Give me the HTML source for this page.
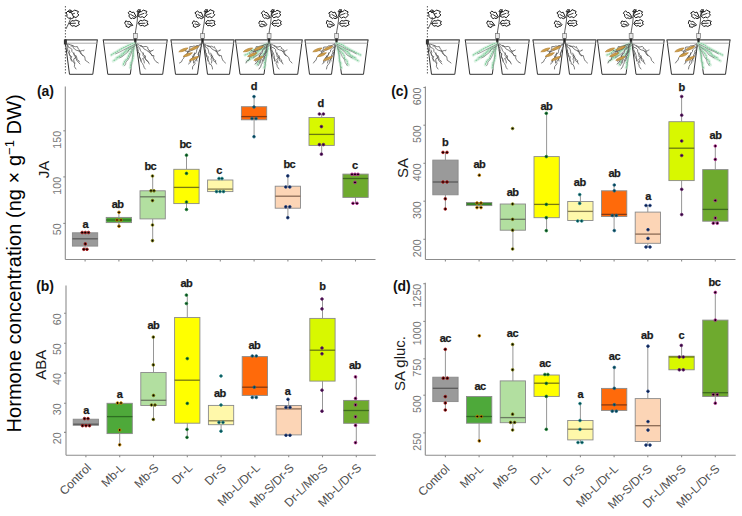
<!DOCTYPE html>
<html><head><meta charset="utf-8"><style>
html,body{margin:0;padding:0;background:#fff;}
svg{display:block;}
text{font-family:"Liberation Sans",sans-serif;}
.ax{stroke:#8c8c8c;stroke-width:1.1;fill:none;}
.wh{stroke:#8a8a8a;stroke-width:0.9;}
.bx{stroke:#8a8a8a;stroke-width:0.9;}
.md{stroke-width:1.3;}
.pt{stroke-width:0.8;}
.lt{font-weight:bold;font-size:11px;text-anchor:middle;fill:#1a1a1a;letter-spacing:-0.5px;stroke:#1a1a1a;stroke-width:0.25px;}
.tk{font-size:10.7px;fill:#747474;text-anchor:end;}
.tt{font-size:15px;fill:#1a1a1a;text-anchor:middle;}
.pl{font-weight:bold;font-size:14px;fill:#111;letter-spacing:-0.1px;}
.xl{font-size:12px;fill:#4d4d4d;text-anchor:end;}
.big{font-size:20.1px;fill:#000;text-anchor:start;}
.pot{stroke:#333;stroke-width:1;fill:none;}
.rim{stroke:#444;stroke-width:1.3;}
.rim2{stroke:#aaa;stroke-width:1;}
.root2{stroke:#666;stroke-width:0.6;fill:none;}
.col{stroke:#777;stroke-width:0.7;fill:#e8e8e8;}
.stem{stroke:#333;stroke-width:0.8;fill:none;}
.leaf{stroke:#1a1a1a;stroke-width:1;fill:#fff;stroke-linejoin:round;}
.vein{stroke:#222;stroke-width:0.9;}
.root{stroke:#505050;stroke-width:0.75;fill:none;stroke-linejoin:round;stroke-linecap:round;}
.rootin{stroke:#fff;stroke-width:0.5;fill:none;stroke-linejoin:round;}
.groot{stroke:#c6e9d2;stroke-width:3.2;fill:none;stroke-linecap:round;opacity:0.6;}
.groot2{stroke:#80cc9c;stroke-width:1.1;fill:none;stroke-linecap:round;stroke-dasharray:1 1.4;}
.blob{fill:#cf9f48;stroke:#b08035;stroke-width:0.6;}
.dash{stroke:#333;stroke-width:0.8;stroke-dasharray:1.5 1.5;}
</style></head><body>
<svg width="742" height="516" viewBox="0 0 742 516">
<defs><g id="plants">
<path d="M65.0,40 L69.5,74.3 L92.8,74.3 L97.3,40" class="pot"/>
<line x1="64.5" y1="39.8" x2="97.8" y2="39.8" class="rim"/>
<line x1="65.5" y1="43.2" x2="96.8" y2="43.2" class="rim2"/>
<line x1="65.4" y1="6" x2="65.4" y2="74.5" class="dash"/>
<path d="M65.9,29 L68.4,24 L70.9,18 L72.4,12" class="stem"/>
<path d="M69.4,23.5 L71.9,20.6 L74.1,21.0 L75.9,20.0 L79.4,21.5 L78.3,23.1 L79.5,24.5 L75.9,26.6 L74.1,25.6 L71.9,26.2Z" class="leaf"/>
<path d="M69.4,23.5 L75.9,23.2" class="vein"/>
<path d="M68.9,15.5 L70.9,11.2 L73.0,11.5 L74.4,10.0 L78.4,11.5 L77.5,13.5 L78.9,15.0 L75.9,17.6 L74.0,16.7 L71.9,17.6Z" class="leaf"/>
<path d="M68.9,15.5 L74.9,13.2" class="vein"/>
<path d="M73.9,17.5 L71.2,12.2 L69.5,12.5 L68.0,11.0 L66.0,13.0 L67.1,14.8 L66.7,16.2 L68.9,18.6 L70.1,17.8 L71.6,18.6Z" class="leaf"/>
<path d="M67.4,12 L69.4,9.8 L71.4,10.5 L68.4,11.5 L70.4,12.5" fill="none" stroke="#222" stroke-width="0.9"/>
<rect x="63.900000000000006" y="39.5" width="3" height="5" fill="#333"/>
<path d="M66.0,42.0 L66.4,43.6 L67.8,45.5 L67.8,47.9 L67.2,50.0 L68.2,51.9 L69.2,53.6 L70.4,56.4 L70.3,57.7 L72.2,60.5 L73.1,61.9 L74.4,63.0 L74.6,64.8 L74.4,66.6 L76.0,69.0" class="root"/>
<path d="M67.0,44.0 L67.7,45.8 L68.4,47.1 L70.8,48.4 L72.1,49.5 L71.7,51.2 L73.3,52.9 L74.2,54.6 L75.9,55.8 L77.0,58.2 L76.5,60.1 L78.5,62.4 L80.0,64.0" class="root"/>
<path d="M68.0,44.0 L70.4,44.8 L72.9,45.6 L73.4,47.8 L74.4,49.0 L76.2,50.2 L79.5,51.1 L80.7,52.3 L81.4,54.1 L82.6,55.0 L84.6,56.5 L85.0,58.2 L85.2,60.2 L87.8,62.0 L89.0,63.0" class="root"/>
<path d="M71.0,46.0 L73.6,46.0 L74.8,46.7 L75.6,46.7 L77.4,46.6 L78.2,48.8 L79.3,49.7 L80.3,51.9 L80.2,52.9 L82.1,54.9 L83.0,56.0" class="root"/>
<path d="M69.0,50.0 L69.8,52.4 L69.1,53.9 L70.0,55.9 L71.8,56.6 L70.7,58.7 L71.5,61.0" class="root"/>
<path d="M74.0,53.0 L74.0,55.0 L75.2,56.7 L75.6,58.4 L77.8,60.1 L79.3,61.2 L79.0,62.0" class="root"/>
<path d="M79.0,51.0 L80.5,51.1 L82.3,50.5 L83.7,50.8 L84.0,50.0" class="root"/>
<path d="M76.0,56.0 L75.7,57.8 L73.8,58.9 L73.8,61.1 L75.0,63.0" class="root"/>
<path d="M103.3,40 L107.8,74.3 L130.3,74.3 L134.8,40" class="pot"/>
<line x1="102.8" y1="39.8" x2="135.3" y2="39.8" class="rim"/>
<line x1="103.8" y1="43.2" x2="134.3" y2="43.2" class="rim2"/>
<path d="M135.8,40 L140.3,74.3 L162.7,74.3 L167.2,40" class="pot"/>
<line x1="135.3" y1="39.8" x2="167.7" y2="39.8" class="rim"/>
<line x1="136.3" y1="43.2" x2="166.7" y2="43.2" class="rim2"/>
<path d="M135.3,43.0 L131.6,43.8 L128.8,45.2 L126.0,46.6 L122.5,48.2 L119.7,49.9 L116.5,51.9 L114.5,52.9 L111.3,55.0" class="groot"/>
<path d="M135.3,43.0 L131.6,43.8 L128.8,45.2 L126.0,46.6 L122.5,48.2 L119.7,49.9 L116.5,51.9 L114.5,52.9 L111.3,55.0" class="groot2"/>
<path d="M135.3,44.0 L132.4,45.9 L130.1,47.6 L128.4,50.5 L125.2,52.0 L121.6,54.1 L119.0,56.8 L116.8,58.7 L113.3,61.0" class="groot"/>
<path d="M135.3,44.0 L132.4,45.9 L130.1,47.6 L128.4,50.5 L125.2,52.0 L121.6,54.1 L119.0,56.8 L116.8,58.7 L113.3,61.0" class="groot2"/>
<path d="M134.3,45.0 L132.0,48.4 L131.3,50.7 L129.9,53.0 L128.3,56.5 L127.4,58.7 L124.9,60.9 L123.8,63.3 L123.3,65.0" class="groot"/>
<path d="M134.3,45.0 L132.0,48.4 L131.3,50.7 L129.9,53.0 L128.3,56.5 L127.4,58.7 L124.9,60.9 L123.8,63.3 L123.3,65.0" class="groot2"/>
<path d="M134.3,46.0 L133.9,49.3 L133.0,51.7 L133.3,55.5 L132.9,58.3 L132.3,60.7 L130.9,63.0 L130.6,65.0 L130.3,68.0" class="groot"/>
<path d="M134.3,46.0 L133.9,49.3 L133.0,51.7 L133.3,55.5 L132.9,58.3 L132.3,60.7 L130.9,63.0 L130.6,65.0 L130.3,68.0" class="groot2"/>
<path d="M133.3,47.0 L129.0,48.3 L125.9,50.2 L124.5,52.4 L122.0,55.5 L119.5,56.4 L116.3,58.0" class="groot"/>
<path d="M133.3,47.0 L129.0,48.3 L125.9,50.2 L124.5,52.4 L122.0,55.5 L119.5,56.4 L116.3,58.0" class="groot2"/>
<path d="M135.3,45.0 L133.5,47.8 L132.0,50.8 L130.9,54.2 L129.6,57.0 L128.0,59.7 L125.9,62.1 L125.7,64.2 L124.3,66.0" class="root2"/>
<path d="M135.3,44.0 L132.6,45.5 L129.0,47.2 L126.1,48.7 L123.8,49.9 L119.2,52.3 L115.3,54.0" class="root2"/>
<path d="M134.3,46.0 L132.0,47.8 L128.9,49.8 L127.2,52.7 L123.9,55.2 L122.3,56.6 L119.3,58.0" class="root2"/>
<path d="M135.3,42.0 L135.8,44.1 L136.1,45.5 L137.9,48.2 L137.3,50.5 L138.2,52.4 L139.9,53.7 L139.4,55.8 L139.8,58.1 L140.9,59.9 L141.6,62.4 L142.5,63.5 L143.5,65.4 L144.2,67.5 L145.3,69.0" class="root"/>
<path d="M136.3,44.0 L137.3,45.5 L138.3,46.5 L139.7,48.2 L140.4,50.3 L141.2,51.5 L142.7,53.1 L143.5,54.5 L145.4,56.3 L145.1,58.1 L145.8,59.8 L148.3,62.0 L149.3,64.0" class="root"/>
<path d="M137.3,44.0 L139.4,45.3 L142.0,45.9 L143.0,47.5 L144.3,49.2 L146.2,50.0 L148.3,51.5 L149.7,52.9 L151.1,53.7 L151.9,55.5 L153.9,55.6 L153.6,57.9 L154.5,59.7 L156.0,61.7 L158.3,63.0" class="root"/>
<path d="M140.3,46.0 L142.8,46.7 L143.7,46.7 L146.1,46.4 L148.0,47.5 L147.8,49.0 L149.1,50.0 L150.7,51.9 L149.7,52.9 L151.3,54.3 L152.3,56.0" class="root"/>
<path d="M138.3,50.0 L138.0,51.8 L139.2,53.5 L139.6,55.4 L139.4,56.8 L140.8,59.0 L140.8,61.0" class="root"/>
<path d="M143.3,53.0 L143.0,55.5 L144.8,57.5 L145.1,58.2 L146.5,60.3 L147.4,60.6 L148.3,62.0" class="root"/>
<path d="M148.3,51.0 L149.7,51.4 L151.9,50.7 L151.7,51.0 L153.3,50.0" class="root"/>
<path d="M145.3,56.0 L144.4,57.7 L142.6,58.5 L144.1,60.9 L144.3,63.0" class="root"/>
<rect x="133.5" y="33.5" width="3.8" height="5" class="col"/>
<path d="M135.3,33.5 C135.8,29 136.8,25 137.3,20 L137.8,11" class="stem"/>
<path d="M132.8,25.4 L129.7,21.4 L127.9,21.9 L125.8,20.8 L124.6,23.3 L126.1,24.7 L126.1,26.4 L129.1,27.6 L129.8,26.1 L131.4,25.7Z" class="leaf"/>
<path d="M131.8,25 L127.30000000000001,23.8" class="vein"/>
<path d="M138.0,23.3 L140.2,20.3 L142.5,20.8 L144.1,19.8 L147.8,21.3 L146.9,22.9 L148.3,24.3 L144.5,26.3 L142.7,25.3 L140.4,25.8Z" class="leaf"/>
<path d="M138.8,23.5 L145.3,23.2" class="vein"/>
<path d="M136.4,17.1 L133.8,12.2 L131.8,12.5 L129.9,11.0 L128.2,12.7 L129.4,14.6 L128.9,16.1 L131.1,18.9 L132.4,17.9 L134.0,18.6Z" class="leaf"/>
<path d="M135.8,17.5 L130.3,14.2" class="vein"/>
<path d="M137.7,15.9 L139.4,11.5 L141.6,11.6 L143.2,10.1 L146.9,11.4 L145.9,13.3 L147.1,14.7 L144.2,17.8 L142.3,16.7 L140.3,17.3Z" class="leaf"/>
<path d="M138.3,15.5 L144.3,13.2" class="vein"/>
<path d="M136.8,12 L138.3,9.5 L140.8,10 L137.8,11.5 L140.3,12 L137.8,13" fill="none" stroke="#222" stroke-width="0.9"/>
<path d="M133.8,38.5 L136.8,38.5 L135.3,43 Z" fill="#222"/>
<path d="M171.0,40 L175.5,74.3 L197.5,74.3 L202.0,40" class="pot"/>
<line x1="170.5" y1="39.8" x2="202.5" y2="39.8" class="rim"/>
<line x1="171.5" y1="43.2" x2="201.5" y2="43.2" class="rim2"/>
<path d="M203.0,40 L207.5,74.3 L229.5,74.3 L234.0,40" class="pot"/>
<line x1="202.5" y1="39.8" x2="234.5" y2="39.8" class="rim"/>
<line x1="203.5" y1="43.2" x2="233.5" y2="43.2" class="rim2"/>
<path d="M202.5,42.0 L201.0,44.4 L201.7,46.2 L200.4,47.7 L200.1,50.0 L198.9,51.9 L198.1,54.5 L198.9,56.1 L197.0,58.5 L196.2,59.8 L194.6,61.9 L195.0,63.5 L194.0,65.0 L192.6,66.7 L192.5,69.0" class="root"/>
<path d="M201.5,44.0 L199.8,45.4 L198.7,46.5 L197.6,48.2 L196.7,50.0 L196.5,51.7 L195.9,53.4 L193.8,54.3 L193.4,55.6 L192.4,58.2 L190.7,60.4 L190.7,62.1 L188.5,64.0" class="root"/>
<path d="M200.5,44.0 L198.9,45.3 L195.9,46.0 L195.0,47.9 L194.0,49.4 L191.7,50.4 L189.8,51.2 L188.0,52.0 L186.8,53.8 L185.3,55.4 L184.6,56.1 L183.7,58.2 L182.5,59.5 L181.5,61.8 L179.5,63.0" class="root"/>
<path d="M197.5,46.0 L195.5,46.3 L193.8,46.0 L192.4,46.5 L189.7,46.7 L189.9,48.2 L188.9,50.5 L188.0,51.4 L187.5,53.2 L187.0,54.6 L185.5,56.0" class="root"/>
<path d="M199.5,50.0 L199.5,51.5 L198.4,53.7 L198.7,55.3 L197.6,56.5 L196.5,58.8 L197.0,61.0" class="root"/>
<path d="M194.5,53.0 L194.3,55.2 L193.8,56.8 L192.0,58.5 L190.4,59.6 L190.7,60.7 L189.5,62.0" class="root"/>
<path d="M189.5,51.0 L188.9,51.5 L185.6,51.0 L186.1,51.0 L184.5,50.0" class="root"/>
<path d="M192.5,56.0 L193.4,57.3 L194.0,59.5 L193.5,61.1 L193.5,63.0" class="root"/>
<path d="M178.5,50.6 C180.5,48.6 186.0,48.3 188.5,49.1 C186.5,51.3 181.5,51.7 178.5,50.6Z" transform="rotate(-14 183.5 50)" class="blob"/>
<path d="M189.2,48.9 C191.2,46.9 196.7,46.599999999999994 199.2,47.4 C197.2,49.599999999999994 192.2,50.0 189.2,48.9Z" transform="rotate(-14 194.2 48.3)" class="blob"/>
<path d="M182.8,55.4 C184.8,53.4 190.3,53.099999999999994 192.8,53.9 C190.8,56.099999999999994 185.8,56.5 182.8,55.4Z" transform="rotate(-14 187.8 54.8)" class="blob"/>
<path d="M189.0,59.2 C191.0,57.2 196.5,56.9 199.0,57.7 C197.0,59.9 192.0,60.300000000000004 189.0,59.2Z" transform="rotate(-14 194.0 58.6)" class="blob"/>
<path d="M202.5,42.0 L202.6,44.0 L204.8,45.6 L204.8,48.0 L205.2,50.2 L205.0,52.4 L206.5,53.5 L206.1,56.0 L207.4,57.8 L207.9,59.8 L209.2,62.4 L209.1,63.8 L211.1,64.6 L212.3,67.2 L212.5,69.0" class="root"/>
<path d="M203.5,44.0 L205.2,45.3 L205.3,46.9 L207.9,48.6 L208.2,49.9 L208.6,51.0 L208.8,53.4 L210.6,55.0 L212.0,55.7 L213.0,57.7 L213.3,60.5 L215.7,62.3 L216.5,64.0" class="root"/>
<path d="M204.5,44.0 L206.7,45.4 L209.3,46.1 L210.4,47.0 L211.9,48.9 L214.0,50.2 L215.1,50.5 L217.3,52.1 L217.4,53.8 L218.6,55.3 L221.4,55.7 L221.8,57.8 L222.6,59.9 L223.4,61.1 L225.5,63.0" class="root"/>
<path d="M207.5,46.0 L209.0,46.7 L211.5,46.2 L213.7,47.3 L214.4,46.6 L214.9,48.1 L216.2,49.6 L216.5,51.2 L217.6,53.4 L218.9,54.4 L219.5,56.0" class="root"/>
<path d="M205.5,50.0 L205.6,52.0 L205.8,53.8 L206.0,55.3 L208.3,56.6 L207.8,59.1 L208.0,61.0" class="root"/>
<path d="M210.5,53.0 L211.7,54.7 L211.1,56.7 L212.8,58.4 L215.3,60.4 L215.7,60.5 L215.5,62.0" class="root"/>
<path d="M215.5,51.0 L216.2,51.2 L219.2,51.0 L219.7,50.0 L220.5,50.0" class="root"/>
<path d="M212.5,56.0 L211.3,58.0 L211.1,59.4 L211.9,60.7 L211.5,63.0" class="root"/>
<rect x="200.7" y="33.5" width="3.8" height="5" class="col"/>
<path d="M202.5,33.5 C203.0,29 204.0,25 204.5,20 L205.0,11" class="stem"/>
<path d="M200.0,24.7 L196.8,21.3 L195.4,21.8 L193.7,20.7 L192.2,23.2 L193.5,24.7 L193.3,26.5 L195.9,27.5 L196.9,26.3 L198.6,26.3Z" class="leaf"/>
<path d="M199.0,25 L194.5,23.8" class="vein"/>
<path d="M205.3,23.3 L207.4,20.4 L209.9,21.0 L211.8,20.2 L214.9,21.2 L214.0,22.9 L215.3,24.6 L211.6,26.4 L209.9,25.3 L207.8,25.8Z" class="leaf"/>
<path d="M206.0,23.5 L212.5,23.2" class="vein"/>
<path d="M203.6,17.5 L201.2,12.3 L199.3,12.6 L197.6,11.0 L194.9,12.8 L196.4,14.8 L196.2,16.4 L198.1,18.2 L199.5,17.7 L201.3,18.7Z" class="leaf"/>
<path d="M203.0,17.5 L197.5,14.2" class="vein"/>
<path d="M204.6,15.3 L206.8,11.5 L208.8,11.4 L210.0,9.6 L214.1,11.4 L213.3,13.3 L214.8,14.8 L211.9,17.8 L209.9,16.7 L207.7,17.4Z" class="leaf"/>
<path d="M205.5,15.5 L211.5,13.2" class="vein"/>
<path d="M204.0,12 L205.5,9.5 L208.0,10 L205.0,11.5 L207.5,12 L205.0,13" fill="none" stroke="#222" stroke-width="0.9"/>
<path d="M201.0,38.5 L204.0,38.5 L202.5,43 Z" fill="#222"/>
<path d="M235.5,40 L240,74.3 L264,74.3 L268.5,40" class="pot"/>
<line x1="235" y1="39.8" x2="269" y2="39.8" class="rim"/>
<line x1="236" y1="43.2" x2="268" y2="43.2" class="rim2"/>
<path d="M269.5,40 L274,74.3 L297.7,74.3 L302.2,40" class="pot"/>
<line x1="269" y1="39.8" x2="302.7" y2="39.8" class="rim"/>
<line x1="270" y1="43.2" x2="301.7" y2="43.2" class="rim2"/>
<path d="M269.0,43.0 L266.8,44.1 L263.5,45.2 L259.6,47.3 L256.7,48.9 L254.0,49.7 L250.6,51.4 L248.3,53.7 L245.0,55.0" class="groot"/>
<path d="M269.0,43.0 L266.8,44.1 L263.5,45.2 L259.6,47.3 L256.7,48.9 L254.0,49.7 L250.6,51.4 L248.3,53.7 L245.0,55.0" class="groot2"/>
<path d="M269.0,44.0 L265.9,45.9 L263.5,48.5 L260.9,49.6 L258.3,51.9 L256.6,54.9 L253.4,57.5 L250.7,58.8 L247.0,61.0" class="groot"/>
<path d="M269.0,44.0 L265.9,45.9 L263.5,48.5 L260.9,49.6 L258.3,51.9 L256.6,54.9 L253.4,57.5 L250.7,58.8 L247.0,61.0" class="groot2"/>
<path d="M268.0,45.0 L266.0,48.4 L265.4,50.6 L263.8,53.4 L261.8,55.8 L260.0,58.0 L258.6,60.9 L258.7,62.6 L257.0,65.0" class="groot"/>
<path d="M268.0,45.0 L266.0,48.4 L265.4,50.6 L263.8,53.4 L261.8,55.8 L260.0,58.0 L258.6,60.9 L258.7,62.6 L257.0,65.0" class="groot2"/>
<path d="M268.0,46.0 L268.2,48.7 L266.8,52.3 L267.0,54.9 L265.3,58.0 L265.3,60.9 L264.5,62.9 L265.1,65.0 L264.0,68.0" class="groot"/>
<path d="M268.0,46.0 L268.2,48.7 L266.8,52.3 L267.0,54.9 L265.3,58.0 L265.3,60.9 L264.5,62.9 L265.1,65.0 L264.0,68.0" class="groot2"/>
<path d="M267.0,47.0 L263.4,48.8 L260.4,49.6 L256.8,52.1 L255.7,54.8 L252.9,56.9 L250.0,58.0" class="groot"/>
<path d="M267.0,47.0 L263.4,48.8 L260.4,49.6 L256.8,52.1 L255.7,54.8 L252.9,56.9 L250.0,58.0" class="groot2"/>
<path d="M269.0,45.0 L267.3,47.9 L266.5,51.1 L264.3,54.1 L262.8,56.9 L261.0,59.7 L260.4,62.1 L259.4,63.7 L258.0,66.0" class="root2"/>
<path d="M269.0,44.0 L265.7,45.5 L263.5,47.3 L259.9,48.4 L256.9,50.0 L253.4,51.8 L249.0,54.0" class="root2"/>
<path d="M268.0,46.0 L265.8,48.1 L263.3,50.2 L260.6,52.4 L257.8,54.9 L255.8,56.2 L253.0,58.0" class="root2"/>
<path d="M269.0,42.0 L267.7,44.3 L267.0,45.5 L266.4,48.1 L266.7,50.5 L266.7,52.5 L264.6,53.6 L263.8,56.0 L264.4,57.9 L262.5,59.9 L262.2,62.2 L261.9,63.9 L261.3,64.6 L260.6,66.8 L259.0,69.0" class="root"/>
<path d="M268.0,44.0 L267.1,45.4 L266.4,46.7 L264.0,48.2 L262.4,50.4 L262.6,51.3 L261.8,53.5 L260.5,54.2 L259.6,56.2 L259.4,57.6 L258.0,60.3 L257.1,62.4 L255.0,64.0" class="root"/>
<path d="M267.0,44.0 L264.2,44.8 L262.3,45.7 L262.4,47.6 L260.8,48.9 L258.7,49.9 L255.6,51.3 L255.8,52.1 L254.2,54.1 L252.0,54.9 L250.4,55.7 L249.6,58.1 L249.3,59.7 L246.6,61.3 L246.0,63.0" class="root"/>
<path d="M264.0,46.0 L262.3,45.9 L259.7,46.2 L259.0,46.8 L256.2,46.6 L255.8,48.6 L255.3,49.6 L253.9,51.7 L253.8,52.8 L252.7,55.0 L252.0,56.0" class="root"/>
<path d="M266.0,50.0 L265.4,52.1 L265.2,53.9 L265.4,56.0 L263.8,56.7 L264.2,58.7 L263.5,61.0" class="root"/>
<path d="M261.0,53.0 L259.6,55.4 L259.9,57.3 L258.3,58.9 L256.9,59.6 L255.6,61.1 L256.0,62.0" class="root"/>
<path d="M256.0,51.0 L254.8,51.4 L252.3,51.1 L251.8,50.5 L251.0,50.0" class="root"/>
<path d="M259.0,56.0 L259.4,57.3 L261.0,59.5 L259.8,61.0 L260.0,63.0" class="root"/>
<path d="M243,50.6 C245,48.6 250.5,48.3 253,49.1 C251,51.3 246,51.7 243,50.6Z" transform="rotate(-14 248 50)" class="blob"/>
<path d="M253.7,48.9 C255.7,46.9 261.2,46.599999999999994 263.7,47.4 C261.7,49.599999999999994 256.7,50.0 253.7,48.9Z" transform="rotate(-14 258.7 48.3)" class="blob"/>
<path d="M247.3,55.4 C249.3,53.4 254.8,53.099999999999994 257.3,53.9 C255.3,56.099999999999994 250.3,56.5 247.3,55.4Z" transform="rotate(-14 252.3 54.8)" class="blob"/>
<path d="M253.5,59.2 C255.5,57.2 261.0,56.9 263.5,57.7 C261.5,59.9 256.5,60.300000000000004 253.5,59.2Z" transform="rotate(-14 258.5 58.6)" class="blob"/>
<path d="M269.0,42.0 L270.3,44.5 L270.0,45.6 L271.5,48.5 L271.0,49.5 L272.8,51.9 L273.7,54.1 L274.1,55.6 L274.5,57.7 L274.8,60.4 L276.6,61.7 L276.0,63.4 L277.0,64.9 L277.3,66.7 L279.0,69.0" class="root"/>
<path d="M270.0,44.0 L271.4,45.9 L271.2,47.1 L274.0,48.0 L275.6,49.6 L275.7,51.6 L276.2,52.8 L277.4,54.6 L278.9,56.2 L279.4,57.9 L279.1,60.1 L281.5,61.7 L283.0,64.0" class="root"/>
<path d="M271.0,44.0 L273.5,45.3 L274.9,45.7 L276.5,47.1 L277.3,48.9 L279.3,49.9 L282.0,50.5 L283.2,52.0 L284.4,54.3 L285.5,54.5 L287.0,55.9 L288.8,57.6 L289.6,60.5 L290.9,61.8 L292.0,63.0" class="root"/>
<path d="M274.0,46.0 L275.4,46.8 L278.0,47.0 L280.2,46.4 L281.5,47.5 L281.2,48.3 L283.5,49.6 L284.2,51.3 L284.6,52.6 L285.0,55.0 L286.0,56.0" class="root"/>
<path d="M272.0,50.0 L271.7,51.7 L272.5,53.8 L272.4,55.2 L273.4,57.5 L274.6,59.4 L274.5,61.0" class="root"/>
<path d="M277.0,53.0 L276.9,55.3 L277.3,57.0 L279.7,58.3 L281.7,60.1 L281.6,61.4 L282.0,62.0" class="root"/>
<path d="M282.0,51.0 L282.8,51.5 L285.2,50.9 L286.5,50.2 L287.0,50.0" class="root"/>
<path d="M279.0,56.0 L278.9,57.6 L276.7,59.3 L277.4,60.7 L278.0,63.0" class="root"/>
<rect x="267.2" y="33.5" width="3.8" height="5" class="col"/>
<path d="M269,33.5 C269.5,29 270.5,25 271,20 L271.5,11" class="stem"/>
<path d="M267.0,24.6 L263.6,21.0 L261.9,21.7 L259.9,20.9 L258.7,23.1 L260.0,24.5 L259.7,26.1 L262.4,27.0 L263.5,25.9 L265.4,25.9Z" class="leaf"/>
<path d="M265.5,25 L261,23.8" class="vein"/>
<path d="M271.7,23.8 L273.9,20.4 L276.3,20.8 L278.3,19.6 L281.3,21.4 L280.3,23.0 L281.5,24.4 L278.0,26.7 L276.3,25.5 L274.3,26.0Z" class="leaf"/>
<path d="M272.5,23.5 L279,23.2" class="vein"/>
<path d="M270.4,17.5 L267.0,12.5 L265.3,12.6 L263.6,10.7 L261.3,13.1 L262.8,14.9 L262.6,16.4 L264.7,18.4 L265.9,17.8 L267.4,18.7Z" class="leaf"/>
<path d="M269.5,17.5 L264,14.2" class="vein"/>
<path d="M271.2,15.4 L273.3,11.2 L275.5,11.5 L277.0,10.2 L280.5,11.8 L279.6,13.6 L280.8,15.0 L278.1,17.4 L276.1,16.7 L273.8,17.8Z" class="leaf"/>
<path d="M272,15.5 L278,13.2" class="vein"/>
<path d="M270.5,12 L272,9.5 L274.5,10 L271.5,11.5 L274,12 L271.5,13" fill="none" stroke="#222" stroke-width="0.9"/>
<path d="M267.5,38.5 L270.5,38.5 L269,43 Z" fill="#222"/>
<path d="M305.0,40 L309.5,74.3 L331.5,74.3 L336.0,40" class="pot"/>
<line x1="304.5" y1="39.8" x2="336.5" y2="39.8" class="rim"/>
<line x1="305.5" y1="43.2" x2="335.5" y2="43.2" class="rim2"/>
<path d="M337.0,40 L341.5,74.3 L363.5,74.3 L368.0,40" class="pot"/>
<line x1="336.5" y1="39.8" x2="368.5" y2="39.8" class="rim"/>
<line x1="337.5" y1="43.2" x2="367.5" y2="43.2" class="rim2"/>
<path d="M336.5,42.0 L334.9,44.1 L335.8,45.6 L334.2,48.1 L334.5,50.2 L334.1,51.6 L332.2,53.8 L331.2,56.4 L332.0,58.2 L329.6,60.4 L329.9,62.0 L329.4,63.4 L328.0,64.6 L327.0,66.5 L326.5,69.0" class="root"/>
<path d="M335.5,44.0 L334.2,45.8 L333.9,47.4 L332.4,48.2 L330.6,49.9 L330.5,51.5 L329.1,53.2 L328.8,54.2 L327.2,55.5 L325.6,57.7 L325.9,60.5 L324.4,61.8 L322.5,64.0" class="root"/>
<path d="M334.5,44.0 L333.2,44.8 L330.0,46.4 L329.2,47.7 L327.8,49.5 L325.4,50.4 L323.9,51.4 L322.4,52.7 L321.6,53.8 L319.5,55.1 L317.7,56.4 L316.9,57.5 L315.8,60.5 L314.7,61.1 L313.5,63.0" class="root"/>
<path d="M331.5,46.0 L328.7,45.8 L327.8,46.6 L326.4,47.0 L323.7,47.1 L323.3,48.8 L323.1,50.4 L321.2,51.9 L322.2,53.5 L319.8,54.2 L319.5,56.0" class="root"/>
<path d="M333.5,50.0 L332.6,51.5 L333.6,54.3 L332.5,55.9 L331.7,56.8 L330.5,58.6 L331.0,61.0" class="root"/>
<path d="M328.5,53.0 L328.5,54.7 L327.2,56.9 L325.1,58.2 L324.1,60.2 L323.8,60.8 L323.5,62.0" class="root"/>
<path d="M323.5,51.0 L322.8,51.0 L321.1,51.1 L318.7,50.4 L318.5,50.0" class="root"/>
<path d="M326.5,56.0 L327.4,57.8 L328.2,59.2 L328.1,60.7 L327.5,63.0" class="root"/>
<path d="M312.5,50.6 C314.5,48.6 320.0,48.3 322.5,49.1 C320.5,51.3 315.5,51.7 312.5,50.6Z" transform="rotate(-14 317.5 50)" class="blob"/>
<path d="M323.2,48.9 C325.2,46.9 330.7,46.599999999999994 333.2,47.4 C331.2,49.599999999999994 326.2,50.0 323.2,48.9Z" transform="rotate(-14 328.2 48.3)" class="blob"/>
<path d="M316.8,55.4 C318.8,53.4 324.3,53.099999999999994 326.8,53.9 C324.8,56.099999999999994 319.8,56.5 316.8,55.4Z" transform="rotate(-14 321.8 54.8)" class="blob"/>
<path d="M323.0,59.2 C325.0,57.2 330.5,56.9 333.0,57.7 C331.0,59.9 326.0,60.300000000000004 323.0,59.2Z" transform="rotate(-14 328.0 58.6)" class="blob"/>
<path d="M336.5,43.0 L340.1,43.9 L343.0,45.2 L344.7,46.7 L348.9,49.0 L350.7,50.0 L354.5,51.8 L357.0,53.2 L360.5,55.0" class="groot"/>
<path d="M336.5,43.0 L340.1,43.9 L343.0,45.2 L344.7,46.7 L348.9,49.0 L350.7,50.0 L354.5,51.8 L357.0,53.2 L360.5,55.0" class="groot2"/>
<path d="M336.5,44.0 L338.8,46.3 L341.1,48.4 L343.7,49.7 L346.8,52.0 L348.9,54.6 L351.8,57.3 L355.8,59.3 L358.5,61.0" class="groot"/>
<path d="M336.5,44.0 L338.8,46.3 L341.1,48.4 L343.7,49.7 L346.8,52.0 L348.9,54.6 L351.8,57.3 L355.8,59.3 L358.5,61.0" class="groot2"/>
<path d="M337.5,45.0 L339.2,47.9 L340.3,50.9 L342.6,53.1 L344.1,55.5 L344.5,58.3 L347.1,61.0 L347.3,63.4 L348.5,65.0" class="groot"/>
<path d="M337.5,45.0 L339.2,47.9 L340.3,50.9 L342.6,53.1 L344.1,55.5 L344.5,58.3 L347.1,61.0 L347.3,63.4 L348.5,65.0" class="groot2"/>
<path d="M337.5,46.0 L337.6,49.0 L338.6,52.2 L339.4,55.1 L339.3,57.8 L339.4,60.8 L340.8,63.2 L340.5,65.4 L341.5,68.0" class="groot"/>
<path d="M337.5,46.0 L337.6,49.0 L338.6,52.2 L339.4,55.1 L339.3,57.8 L339.4,60.8 L340.8,63.2 L340.5,65.4 L341.5,68.0" class="groot2"/>
<path d="M338.5,47.0 L342.4,48.6 L344.9,50.0 L348.6,52.2 L350.0,54.8 L353.3,56.8 L355.5,58.0" class="groot"/>
<path d="M338.5,47.0 L342.4,48.6 L344.9,50.0 L348.6,52.2 L350.0,54.8 L353.3,56.8 L355.5,58.0" class="groot2"/>
<path d="M336.5,45.0 L337.7,47.8 L339.2,50.9 L341.0,53.8 L342.3,56.8 L344.5,59.6 L345.1,62.3 L346.1,63.9 L347.5,66.0" class="root2"/>
<path d="M336.5,44.0 L340.0,45.7 L342.7,47.0 L345.2,48.6 L348.1,49.8 L352.4,51.7 L356.5,54.0" class="root2"/>
<path d="M337.5,46.0 L339.9,48.2 L342.7,50.0 L345.1,52.5 L347.1,55.1 L349.9,56.6 L352.5,58.0" class="root2"/>
<rect x="334.7" y="33.5" width="3.8" height="5" class="col"/>
<path d="M336.5,33.5 C337.0,29 338.0,25 338.5,20 L339.0,11" class="stem"/>
<path d="M334.6,24.9 L330.9,21.4 L329.3,21.7 L327.2,20.3 L326.3,23.3 L327.7,24.8 L327.5,26.7 L330.6,27.4 L331.3,26.1 L332.9,26.0Z" class="leaf"/>
<path d="M333.0,25 L328.5,23.8" class="vein"/>
<path d="M339.1,23.6 L341.4,20.5 L343.9,21.1 L345.9,20.2 L349.3,21.3 L348.1,23.0 L349.2,24.5 L345.8,26.5 L344.0,25.7 L341.8,26.5Z" class="leaf"/>
<path d="M340.0,23.5 L346.5,23.2" class="vein"/>
<path d="M337.5,17.6 L335.0,12.1 L333.1,12.7 L331.3,11.4 L328.7,13.0 L330.1,14.9 L329.5,16.4 L332.7,18.6 L333.6,17.8 L335.0,18.7Z" class="leaf"/>
<path d="M337.0,17.5 L331.5,14.2" class="vein"/>
<path d="M338.7,15.7 L340.7,11.3 L342.9,11.6 L344.5,10.0 L348.1,11.9 L347.2,13.7 L348.5,15.1 L345.6,17.8 L343.6,17.0 L341.4,18.0Z" class="leaf"/>
<path d="M339.5,15.5 L345.5,13.2" class="vein"/>
<path d="M338.0,12 L339.5,9.5 L342.0,10 L339.0,11.5 L341.5,12 L339.0,13" fill="none" stroke="#222" stroke-width="0.9"/>
<path d="M335.0,38.5 L338.0,38.5 L336.5,43 Z" fill="#222"/>
</g></defs>
<use href="#plants"/>
<use href="#plants" transform="translate(362,0)"/>
<text transform="translate(21,432.5) rotate(-90)" class="big">Hormone concentration (ng × g<tspan dy="-7" font-size="13px">−1</tspan><tspan dy="7"> DW)</tspan></text>
<line x1="65.3" y1="86.5" x2="65.3" y2="259.5" class="ax"/>
<line x1="65.3" y1="259.5" x2="375.5" y2="259.5" class="ax"/>
<line x1="85.1" y1="259.5" x2="85.1" y2="261.5" class="ax"/>
<line x1="118.9" y1="259.5" x2="118.9" y2="261.5" class="ax"/>
<line x1="152.7" y1="259.5" x2="152.7" y2="261.5" class="ax"/>
<line x1="186.5" y1="259.5" x2="186.5" y2="261.5" class="ax"/>
<line x1="220.3" y1="259.5" x2="220.3" y2="261.5" class="ax"/>
<line x1="254.1" y1="259.5" x2="254.1" y2="261.5" class="ax"/>
<line x1="287.9" y1="259.5" x2="287.9" y2="261.5" class="ax"/>
<line x1="321.7" y1="259.5" x2="321.7" y2="261.5" class="ax"/>
<line x1="355.5" y1="259.5" x2="355.5" y2="261.5" class="ax"/>
<line x1="63.3" y1="130.8" x2="65.3" y2="130.8" class="ax"/>
<text transform="translate(60.5,130.8) rotate(-90)" class="tk">150</text>
<line x1="63.3" y1="176.9" x2="65.3" y2="176.9" class="ax"/>
<text transform="translate(60.5,176.9) rotate(-90)" class="tk">100</text>
<line x1="63.3" y1="223.4" x2="65.3" y2="223.4" class="ax"/>
<text transform="translate(60.5,223.4) rotate(-90)" class="tk">50</text>
<text transform="translate(48.8,169.4) rotate(-90)" class="tt">JA</text>
<text x="36.9" y="96.2" class="pl">(a)</text>
<line x1="66.0" y1="285.6" x2="66.0" y2="455.3" class="ax"/>
<line x1="66.0" y1="455.3" x2="375.8" y2="455.3" class="ax"/>
<line x1="85.9" y1="455.3" x2="85.9" y2="457.3" class="ax"/>
<line x1="119.7" y1="455.3" x2="119.7" y2="457.3" class="ax"/>
<line x1="153.5" y1="455.3" x2="153.5" y2="457.3" class="ax"/>
<line x1="187.3" y1="455.3" x2="187.3" y2="457.3" class="ax"/>
<line x1="221.1" y1="455.3" x2="221.1" y2="457.3" class="ax"/>
<line x1="254.9" y1="455.3" x2="254.9" y2="457.3" class="ax"/>
<line x1="288.7" y1="455.3" x2="288.7" y2="457.3" class="ax"/>
<line x1="322.5" y1="455.3" x2="322.5" y2="457.3" class="ax"/>
<line x1="356.3" y1="455.3" x2="356.3" y2="457.3" class="ax"/>
<line x1="64.0" y1="313.3" x2="66.0" y2="313.3" class="ax"/>
<text transform="translate(61.2,313.3) rotate(-90)" class="tk">60</text>
<line x1="64.0" y1="343.2" x2="66.0" y2="343.2" class="ax"/>
<text transform="translate(61.2,343.2) rotate(-90)" class="tk">50</text>
<line x1="64.0" y1="373.1" x2="66.0" y2="373.1" class="ax"/>
<text transform="translate(61.2,373.1) rotate(-90)" class="tk">40</text>
<line x1="64.0" y1="403.3" x2="66.0" y2="403.3" class="ax"/>
<text transform="translate(61.2,403.3) rotate(-90)" class="tk">30</text>
<line x1="64.0" y1="432.4" x2="66.0" y2="432.4" class="ax"/>
<text transform="translate(61.2,432.4) rotate(-90)" class="tk">20</text>
<text transform="translate(45.8,364.7) rotate(-90)" class="tt">ABA</text>
<text x="36.3" y="290.5" class="pl">(b)</text>
<line x1="425.4" y1="86.5" x2="425.4" y2="259.5" class="ax"/>
<line x1="425.4" y1="259.5" x2="735.5" y2="259.5" class="ax"/>
<line x1="445.4" y1="259.5" x2="445.4" y2="261.5" class="ax"/>
<line x1="479.1" y1="259.5" x2="479.1" y2="261.5" class="ax"/>
<line x1="512.9" y1="259.5" x2="512.9" y2="261.5" class="ax"/>
<line x1="546.6" y1="259.5" x2="546.6" y2="261.5" class="ax"/>
<line x1="580.4" y1="259.5" x2="580.4" y2="261.5" class="ax"/>
<line x1="614.1" y1="259.5" x2="614.1" y2="261.5" class="ax"/>
<line x1="647.8" y1="259.5" x2="647.8" y2="261.5" class="ax"/>
<line x1="681.6" y1="259.5" x2="681.6" y2="261.5" class="ax"/>
<line x1="715.3" y1="259.5" x2="715.3" y2="261.5" class="ax"/>
<line x1="423.4" y1="87.5" x2="425.4" y2="87.5" class="ax"/>
<text transform="translate(420.59999999999997,87.5) rotate(-90)" class="tk">600</text>
<line x1="423.4" y1="125.2" x2="425.4" y2="125.2" class="ax"/>
<text transform="translate(420.59999999999997,125.2) rotate(-90)" class="tk">500</text>
<line x1="423.4" y1="163.3" x2="425.4" y2="163.3" class="ax"/>
<text transform="translate(420.59999999999997,163.3) rotate(-90)" class="tk">400</text>
<line x1="423.4" y1="201.2" x2="425.4" y2="201.2" class="ax"/>
<text transform="translate(420.59999999999997,201.2) rotate(-90)" class="tk">300</text>
<line x1="423.4" y1="239.3" x2="425.4" y2="239.3" class="ax"/>
<text transform="translate(420.59999999999997,239.3) rotate(-90)" class="tk">200</text>
<text transform="translate(407.8,168) rotate(-90)" class="tt">SA</text>
<text x="391.3" y="95.5" class="pl">(c)</text>
<line x1="425.3" y1="282.7" x2="425.3" y2="455.3" class="ax"/>
<line x1="425.3" y1="455.3" x2="735.7" y2="455.3" class="ax"/>
<line x1="445.4" y1="455.3" x2="445.4" y2="457.3" class="ax"/>
<line x1="479.1" y1="455.3" x2="479.1" y2="457.3" class="ax"/>
<line x1="512.9" y1="455.3" x2="512.9" y2="457.3" class="ax"/>
<line x1="546.6" y1="455.3" x2="546.6" y2="457.3" class="ax"/>
<line x1="580.4" y1="455.3" x2="580.4" y2="457.3" class="ax"/>
<line x1="614.1" y1="455.3" x2="614.1" y2="457.3" class="ax"/>
<line x1="647.8" y1="455.3" x2="647.8" y2="457.3" class="ax"/>
<line x1="681.6" y1="455.3" x2="681.6" y2="457.3" class="ax"/>
<line x1="715.3" y1="455.3" x2="715.3" y2="457.3" class="ax"/>
<line x1="423.3" y1="283.7" x2="425.3" y2="283.7" class="ax"/>
<text transform="translate(420.5,283.7) rotate(-90)" class="tk">1250</text>
<line x1="423.3" y1="321.4" x2="425.3" y2="321.4" class="ax"/>
<text transform="translate(420.5,321.4) rotate(-90)" class="tk">1000</text>
<line x1="423.3" y1="358.8" x2="425.3" y2="358.8" class="ax"/>
<text transform="translate(420.5,358.8) rotate(-90)" class="tk">750</text>
<line x1="423.3" y1="395.2" x2="425.3" y2="395.2" class="ax"/>
<text transform="translate(420.5,395.2) rotate(-90)" class="tk">500</text>
<line x1="423.3" y1="432.9" x2="425.3" y2="432.9" class="ax"/>
<text transform="translate(420.5,432.9) rotate(-90)" class="tk">250</text>
<text transform="translate(404.5,363.5) rotate(-90)" class="tt">SA gluc.</text>
<text x="392.9" y="290.5" class="pl">(d)</text>
<line x1="85.1" y1="232.5" x2="85.1" y2="232.8" class="wh"/>
<line x1="85.1" y1="246.1" x2="85.1" y2="249.3" class="wh"/>
<rect x="72.4" y="232.8" width="25.3" height="13.3" fill="#9a9a9a" class="bx"/>
<line x1="72.4" y1="238.8" x2="97.8" y2="238.8" stroke="#5a5a5a" class="md"/>
<circle cx="82.2" cy="232.5" r="1.35" fill="#000000" stroke="#b01818" class="pt"/>
<circle cx="85.3" cy="232.5" r="1.35" fill="#000000" stroke="#b01818" class="pt"/>
<circle cx="88.5" cy="232.5" r="1.35" fill="#000000" stroke="#b01818" class="pt"/>
<circle cx="85.3" cy="243.9" r="1.35" fill="#000000" stroke="#b01818" class="pt"/>
<circle cx="83.8" cy="249.3" r="1.35" fill="#000000" stroke="#b01818" class="pt"/>
<circle cx="87.0" cy="249.3" r="1.35" fill="#000000" stroke="#b01818" class="pt"/>
<text x="85.2" y="227.6" class="lt">a</text>
<line x1="118.9" y1="212.3" x2="118.9" y2="217.4" class="wh"/>
<line x1="118.9" y1="222.6" x2="118.9" y2="226.2" class="wh"/>
<rect x="106.2" y="217.4" width="25.3" height="5.2" fill="#4ea93a" class="bx"/>
<line x1="106.2" y1="220.0" x2="131.5" y2="220.0" stroke="#2e6e22" class="md"/>
<circle cx="119.0" cy="212.3" r="1.35" fill="#000000" stroke="#d08a00" class="pt"/>
<circle cx="117.0" cy="220.0" r="1.35" fill="#000000" stroke="#d08a00" class="pt"/>
<circle cx="121.0" cy="220.0" r="1.35" fill="#000000" stroke="#d08a00" class="pt"/>
<circle cx="119.0" cy="226.2" r="1.35" fill="#000000" stroke="#d08a00" class="pt"/>
<text x="117.6" y="208.0" class="lt">ab</text>
<line x1="152.7" y1="176.0" x2="152.7" y2="190.8" class="wh"/>
<line x1="152.7" y1="218.9" x2="152.7" y2="240.7" class="wh"/>
<rect x="140.0" y="190.8" width="25.3" height="28.1" fill="#b2dfa0" class="bx"/>
<line x1="140.0" y1="196.8" x2="165.3" y2="196.8" stroke="#6a7a60" class="md"/>
<circle cx="152.5" cy="176.0" r="1.35" fill="#000000" stroke="#8a8a10" class="pt"/>
<circle cx="151.0" cy="190.8" r="1.35" fill="#000000" stroke="#8a8a10" class="pt"/>
<circle cx="154.0" cy="190.8" r="1.35" fill="#000000" stroke="#8a8a10" class="pt"/>
<circle cx="152.5" cy="200.6" r="1.35" fill="#000000" stroke="#8a8a10" class="pt"/>
<circle cx="152.5" cy="225.0" r="1.35" fill="#000000" stroke="#8a8a10" class="pt"/>
<circle cx="152.5" cy="240.7" r="1.35" fill="#000000" stroke="#8a8a10" class="pt"/>
<text x="150.3" y="169.6" class="lt">bc</text>
<line x1="186.5" y1="155.2" x2="186.5" y2="169.3" class="wh"/>
<line x1="186.5" y1="203.6" x2="186.5" y2="209.5" class="wh"/>
<rect x="173.8" y="169.3" width="25.3" height="34.3" fill="#ffff00" class="bx"/>
<line x1="173.8" y1="187.4" x2="199.2" y2="187.4" stroke="#7a7a10" class="md"/>
<circle cx="186.5" cy="155.2" r="1.35" fill="#003d20" stroke="#2a8a3a" class="pt"/>
<circle cx="186.5" cy="173.4" r="1.35" fill="#003d20" stroke="#2a8a3a" class="pt"/>
<circle cx="186.5" cy="202.0" r="1.35" fill="#003d20" stroke="#2a8a3a" class="pt"/>
<circle cx="186.5" cy="209.5" r="1.35" fill="#003d20" stroke="#2a8a3a" class="pt"/>
<text x="185.3" y="147.8" class="lt">bc</text>
<rect x="207.6" y="180.0" width="25.3" height="11.6" fill="#fff8aa" class="bx"/>
<line x1="207.6" y1="189.1" x2="232.9" y2="189.1" stroke="#8a8050" class="md"/>
<circle cx="219.0" cy="178.5" r="1.35" fill="#00404a" stroke="#2a8a8a" class="pt"/>
<circle cx="222.0" cy="178.5" r="1.35" fill="#00404a" stroke="#2a8a8a" class="pt"/>
<circle cx="216.5" cy="191.6" r="1.35" fill="#00404a" stroke="#2a8a8a" class="pt"/>
<circle cx="220.0" cy="191.6" r="1.35" fill="#00404a" stroke="#2a8a8a" class="pt"/>
<circle cx="223.5" cy="191.6" r="1.35" fill="#00404a" stroke="#2a8a8a" class="pt"/>
<text x="219.0" y="173.8" class="lt">c</text>
<line x1="254.1" y1="96.6" x2="254.1" y2="106.7" class="wh"/>
<line x1="254.1" y1="119.8" x2="254.1" y2="136.7" class="wh"/>
<rect x="241.4" y="106.7" width="25.3" height="13.1" fill="#ff6a0a" class="bx"/>
<line x1="241.4" y1="116.6" x2="266.8" y2="116.6" stroke="#8a3a10" class="md"/>
<circle cx="254.0" cy="96.6" r="1.35" fill="#00404a" stroke="#2a6a8a" class="pt"/>
<circle cx="254.0" cy="107.0" r="1.35" fill="#00404a" stroke="#2a6a8a" class="pt"/>
<circle cx="252.0" cy="118.5" r="1.35" fill="#00404a" stroke="#2a6a8a" class="pt"/>
<circle cx="256.0" cy="118.5" r="1.35" fill="#00404a" stroke="#2a6a8a" class="pt"/>
<circle cx="254.0" cy="136.7" r="1.35" fill="#00404a" stroke="#2a6a8a" class="pt"/>
<text x="253.8" y="90.3" class="lt">d</text>
<line x1="287.9" y1="175.9" x2="287.9" y2="186.2" class="wh"/>
<line x1="287.9" y1="208.2" x2="287.9" y2="217.7" class="wh"/>
<rect x="275.2" y="186.2" width="25.3" height="22.0" fill="#fcd5b6" class="bx"/>
<line x1="275.2" y1="196.2" x2="300.5" y2="196.2" stroke="#8a6a55" class="md"/>
<circle cx="287.8" cy="175.9" r="1.35" fill="#0a1a40" stroke="#2a4a8a" class="pt"/>
<circle cx="285.8" cy="187.0" r="1.35" fill="#0a1a40" stroke="#2a4a8a" class="pt"/>
<circle cx="289.8" cy="187.0" r="1.35" fill="#0a1a40" stroke="#2a4a8a" class="pt"/>
<circle cx="285.8" cy="206.8" r="1.35" fill="#0a1a40" stroke="#2a4a8a" class="pt"/>
<circle cx="289.8" cy="206.8" r="1.35" fill="#0a1a40" stroke="#2a4a8a" class="pt"/>
<circle cx="287.8" cy="217.7" r="1.35" fill="#0a1a40" stroke="#2a4a8a" class="pt"/>
<text x="289.3" y="168.3" class="lt">bc</text>
<line x1="321.7" y1="114.0" x2="321.7" y2="117.5" class="wh"/>
<line x1="321.7" y1="145.4" x2="321.7" y2="154.2" class="wh"/>
<rect x="309.0" y="117.5" width="25.3" height="27.9" fill="#d8f800" class="bx"/>
<line x1="309.0" y1="134.4" x2="334.3" y2="134.4" stroke="#6a7a10" class="md"/>
<circle cx="319.4" cy="114.0" r="1.35" fill="#300040" stroke="#6a2a6a" class="pt"/>
<circle cx="323.4" cy="114.0" r="1.35" fill="#300040" stroke="#6a2a6a" class="pt"/>
<circle cx="321.4" cy="126.6" r="1.35" fill="#300040" stroke="#6a2a6a" class="pt"/>
<circle cx="319.4" cy="144.6" r="1.35" fill="#300040" stroke="#6a2a6a" class="pt"/>
<circle cx="323.4" cy="144.6" r="1.35" fill="#300040" stroke="#6a2a6a" class="pt"/>
<circle cx="321.4" cy="154.2" r="1.35" fill="#300040" stroke="#6a2a6a" class="pt"/>
<text x="320.5" y="107.3" class="lt">d</text>
<line x1="355.5" y1="197.4" x2="355.5" y2="203.3" class="wh"/>
<rect x="342.9" y="174.1" width="25.3" height="23.3" fill="#6eaa2e" class="bx"/>
<line x1="342.9" y1="178.5" x2="368.1" y2="178.5" stroke="#3e6a1e" class="md"/>
<circle cx="352.0" cy="174.3" r="1.35" fill="#000000" stroke="#c02a9a" class="pt"/>
<circle cx="355.0" cy="174.3" r="1.35" fill="#000000" stroke="#c02a9a" class="pt"/>
<circle cx="358.0" cy="174.3" r="1.35" fill="#000000" stroke="#c02a9a" class="pt"/>
<circle cx="355.0" cy="182.4" r="1.35" fill="#000000" stroke="#c02a9a" class="pt"/>
<circle cx="353.0" cy="203.3" r="1.35" fill="#000000" stroke="#c02a9a" class="pt"/>
<circle cx="357.0" cy="203.3" r="1.35" fill="#000000" stroke="#c02a9a" class="pt"/>
<text x="354.8" y="168.7" class="lt">c</text>
<line x1="85.9" y1="418.6" x2="85.9" y2="419.2" class="wh"/>
<line x1="85.9" y1="425.3" x2="85.9" y2="425.7" class="wh"/>
<rect x="73.2" y="419.2" width="25.3" height="6.1" fill="#9a9a9a" class="bx"/>
<line x1="73.2" y1="424.2" x2="98.5" y2="424.2" stroke="#5a5a5a" class="md"/>
<circle cx="84.5" cy="418.6" r="1.35" fill="#000000" stroke="#b01818" class="pt"/>
<circle cx="88.0" cy="418.6" r="1.35" fill="#000000" stroke="#b01818" class="pt"/>
<circle cx="82.5" cy="425.7" r="1.35" fill="#000000" stroke="#b01818" class="pt"/>
<circle cx="86.0" cy="425.7" r="1.35" fill="#000000" stroke="#b01818" class="pt"/>
<circle cx="89.5" cy="425.7" r="1.35" fill="#000000" stroke="#b01818" class="pt"/>
<text x="86.0" y="414.1" class="lt">a</text>
<line x1="119.7" y1="433.6" x2="119.7" y2="444.8" class="wh"/>
<rect x="107.0" y="403.3" width="25.3" height="30.3" fill="#4ea93a" class="bx"/>
<line x1="107.0" y1="416.6" x2="132.3" y2="416.6" stroke="#2e6e22" class="md"/>
<circle cx="117.5" cy="403.0" r="1.35" fill="#000000" stroke="#d08a00" class="pt"/>
<circle cx="121.0" cy="403.0" r="1.35" fill="#000000" stroke="#d08a00" class="pt"/>
<circle cx="119.7" cy="430.0" r="1.35" fill="#000000" stroke="#d08a00" class="pt"/>
<circle cx="119.7" cy="444.8" r="1.35" fill="#000000" stroke="#d08a00" class="pt"/>
<text x="119.6" y="398.2" class="lt">a</text>
<line x1="153.5" y1="337.1" x2="153.5" y2="372.5" class="wh"/>
<line x1="153.5" y1="405.5" x2="153.5" y2="419.4" class="wh"/>
<rect x="140.8" y="372.5" width="25.3" height="33.0" fill="#b2dfa0" class="bx"/>
<line x1="140.8" y1="400.3" x2="166.2" y2="400.3" stroke="#6a7a60" class="md"/>
<circle cx="153.3" cy="337.1" r="1.35" fill="#000000" stroke="#8a8a10" class="pt"/>
<circle cx="153.3" cy="364.9" r="1.35" fill="#000000" stroke="#8a8a10" class="pt"/>
<circle cx="153.5" cy="395.4" r="1.35" fill="#000000" stroke="#8a8a10" class="pt"/>
<circle cx="151.5" cy="405.0" r="1.35" fill="#000000" stroke="#8a8a10" class="pt"/>
<circle cx="155.0" cy="405.0" r="1.35" fill="#000000" stroke="#8a8a10" class="pt"/>
<circle cx="153.3" cy="419.4" r="1.35" fill="#000000" stroke="#8a8a10" class="pt"/>
<text x="153.3" y="329.1" class="lt">ab</text>
<line x1="187.3" y1="295.1" x2="187.3" y2="317.5" class="wh"/>
<line x1="187.3" y1="423.2" x2="187.3" y2="437.4" class="wh"/>
<rect x="174.6" y="317.5" width="25.3" height="105.7" fill="#ffff00" class="bx"/>
<line x1="174.6" y1="380.2" x2="199.9" y2="380.2" stroke="#7a7a10" class="md"/>
<circle cx="186.4" cy="295.1" r="1.35" fill="#003d20" stroke="#2a8a3a" class="pt"/>
<circle cx="186.4" cy="303.5" r="1.35" fill="#003d20" stroke="#2a8a3a" class="pt"/>
<circle cx="187.3" cy="358.6" r="1.35" fill="#003d20" stroke="#2a8a3a" class="pt"/>
<circle cx="187.3" cy="403.4" r="1.35" fill="#003d20" stroke="#2a8a3a" class="pt"/>
<circle cx="187.0" cy="429.4" r="1.35" fill="#003d20" stroke="#2a8a3a" class="pt"/>
<circle cx="187.0" cy="437.4" r="1.35" fill="#003d20" stroke="#2a8a3a" class="pt"/>
<text x="186.4" y="286.7" class="lt">ab</text>
<line x1="221.1" y1="424.7" x2="221.1" y2="431.2" class="wh"/>
<rect x="208.4" y="405.4" width="25.3" height="19.3" fill="#fff8aa" class="bx"/>
<line x1="208.4" y1="420.8" x2="233.7" y2="420.8" stroke="#8a8050" class="md"/>
<circle cx="221.0" cy="376.0" r="1.35" fill="#00404a" stroke="#2a8a8a" class="pt"/>
<circle cx="221.0" cy="405.0" r="1.35" fill="#00404a" stroke="#2a8a8a" class="pt"/>
<circle cx="219.0" cy="422.4" r="1.35" fill="#00404a" stroke="#2a8a8a" class="pt"/>
<circle cx="223.0" cy="422.4" r="1.35" fill="#00404a" stroke="#2a8a8a" class="pt"/>
<circle cx="221.0" cy="431.2" r="1.35" fill="#00404a" stroke="#2a8a8a" class="pt"/>
<text x="219.8" y="397.1" class="lt">ab</text>
<line x1="254.9" y1="395.4" x2="254.9" y2="397.4" class="wh"/>
<rect x="242.2" y="356.6" width="25.3" height="38.8" fill="#ff6a0a" class="bx"/>
<line x1="242.2" y1="387.2" x2="267.5" y2="387.2" stroke="#8a3a10" class="md"/>
<circle cx="252.3" cy="356.0" r="1.35" fill="#00404a" stroke="#2a6a8a" class="pt"/>
<circle cx="256.3" cy="356.0" r="1.35" fill="#00404a" stroke="#2a6a8a" class="pt"/>
<circle cx="254.3" cy="387.2" r="1.35" fill="#00404a" stroke="#2a6a8a" class="pt"/>
<circle cx="252.3" cy="397.4" r="1.35" fill="#00404a" stroke="#2a6a8a" class="pt"/>
<circle cx="256.3" cy="397.4" r="1.35" fill="#00404a" stroke="#2a6a8a" class="pt"/>
<text x="254.3" y="349.2" class="lt">ab</text>
<line x1="288.7" y1="399.3" x2="288.7" y2="405.5" class="wh"/>
<line x1="288.7" y1="434.9" x2="288.7" y2="435.3" class="wh"/>
<rect x="276.1" y="405.5" width="25.3" height="29.4" fill="#fcd5b6" class="bx"/>
<line x1="276.1" y1="408.9" x2="301.3" y2="408.9" stroke="#8a6a55" class="md"/>
<circle cx="288.0" cy="399.3" r="1.35" fill="#0a1a40" stroke="#2a4a8a" class="pt"/>
<circle cx="286.0" cy="407.3" r="1.35" fill="#0a1a40" stroke="#2a4a8a" class="pt"/>
<circle cx="290.0" cy="407.3" r="1.35" fill="#0a1a40" stroke="#2a4a8a" class="pt"/>
<circle cx="286.0" cy="435.3" r="1.35" fill="#0a1a40" stroke="#2a4a8a" class="pt"/>
<circle cx="290.0" cy="435.3" r="1.35" fill="#0a1a40" stroke="#2a4a8a" class="pt"/>
<text x="287.5" y="395.3" class="lt">a</text>
<line x1="322.5" y1="299.0" x2="322.5" y2="318.4" class="wh"/>
<line x1="322.5" y1="381.1" x2="322.5" y2="411.2" class="wh"/>
<rect x="309.8" y="318.4" width="25.3" height="62.7" fill="#d8f800" class="bx"/>
<line x1="309.8" y1="350.2" x2="335.1" y2="350.2" stroke="#6a7a10" class="md"/>
<circle cx="322.0" cy="299.0" r="1.35" fill="#300040" stroke="#6a2a6a" class="pt"/>
<circle cx="322.0" cy="308.9" r="1.35" fill="#300040" stroke="#6a2a6a" class="pt"/>
<circle cx="322.0" cy="348.0" r="1.35" fill="#300040" stroke="#6a2a6a" class="pt"/>
<circle cx="322.0" cy="353.8" r="1.35" fill="#300040" stroke="#6a2a6a" class="pt"/>
<circle cx="322.0" cy="390.2" r="1.35" fill="#300040" stroke="#6a2a6a" class="pt"/>
<circle cx="322.0" cy="411.2" r="1.35" fill="#300040" stroke="#6a2a6a" class="pt"/>
<text x="322.3" y="290.0" class="lt">b</text>
<line x1="356.3" y1="376.9" x2="356.3" y2="400.4" class="wh"/>
<line x1="356.3" y1="423.3" x2="356.3" y2="442.7" class="wh"/>
<rect x="343.6" y="400.4" width="25.3" height="22.9" fill="#6eaa2e" class="bx"/>
<line x1="343.6" y1="410.5" x2="368.9" y2="410.5" stroke="#3e6a1e" class="md"/>
<circle cx="355.5" cy="376.9" r="1.35" fill="#000000" stroke="#c02a9a" class="pt"/>
<circle cx="355.5" cy="398.4" r="1.35" fill="#000000" stroke="#c02a9a" class="pt"/>
<circle cx="355.5" cy="404.9" r="1.35" fill="#000000" stroke="#c02a9a" class="pt"/>
<circle cx="355.5" cy="416.8" r="1.35" fill="#000000" stroke="#c02a9a" class="pt"/>
<circle cx="355.5" cy="425.3" r="1.35" fill="#000000" stroke="#c02a9a" class="pt"/>
<circle cx="355.5" cy="442.7" r="1.35" fill="#000000" stroke="#c02a9a" class="pt"/>
<text x="354.9" y="368.6" class="lt">ab</text>
<line x1="445.4" y1="152.4" x2="445.4" y2="160.1" class="wh"/>
<line x1="445.4" y1="194.8" x2="445.4" y2="209.0" class="wh"/>
<rect x="432.8" y="160.1" width="25.3" height="34.7" fill="#9a9a9a" class="bx"/>
<line x1="432.8" y1="182.0" x2="458.0" y2="182.0" stroke="#5a5a5a" class="md"/>
<circle cx="443.0" cy="152.4" r="1.35" fill="#000000" stroke="#b01818" class="pt"/>
<circle cx="447.0" cy="152.4" r="1.35" fill="#000000" stroke="#b01818" class="pt"/>
<circle cx="443.0" cy="182.0" r="1.35" fill="#000000" stroke="#b01818" class="pt"/>
<circle cx="447.0" cy="182.0" r="1.35" fill="#000000" stroke="#b01818" class="pt"/>
<circle cx="445.3" cy="198.8" r="1.35" fill="#000000" stroke="#b01818" class="pt"/>
<circle cx="445.3" cy="209.0" r="1.35" fill="#000000" stroke="#b01818" class="pt"/>
<text x="445.1" y="146.4" class="lt">b</text>
<line x1="479.1" y1="205.6" x2="479.1" y2="207.6" class="wh"/>
<rect x="466.5" y="202.5" width="25.3" height="3.1" fill="#4ea93a" class="bx"/>
<line x1="466.5" y1="204.0" x2="491.8" y2="204.0" stroke="#2e6e22" class="md"/>
<circle cx="479.3" cy="175.2" r="1.35" fill="#000000" stroke="#d08a00" class="pt"/>
<circle cx="477.0" cy="203.0" r="1.35" fill="#000000" stroke="#d08a00" class="pt"/>
<circle cx="481.0" cy="203.0" r="1.35" fill="#000000" stroke="#d08a00" class="pt"/>
<circle cx="477.0" cy="207.6" r="1.35" fill="#000000" stroke="#d08a00" class="pt"/>
<circle cx="481.0" cy="207.6" r="1.35" fill="#000000" stroke="#d08a00" class="pt"/>
<text x="479.3" y="167.7" class="lt">ab</text>
<line x1="512.9" y1="230.2" x2="512.9" y2="249.0" class="wh"/>
<rect x="500.2" y="204.0" width="25.3" height="26.2" fill="#b2dfa0" class="bx"/>
<line x1="500.2" y1="219.3" x2="525.5" y2="219.3" stroke="#6a7a60" class="md"/>
<circle cx="512.6" cy="128.5" r="1.35" fill="#000000" stroke="#8a8a10" class="pt"/>
<circle cx="512.6" cy="204.0" r="1.35" fill="#000000" stroke="#8a8a10" class="pt"/>
<circle cx="512.6" cy="219.3" r="1.35" fill="#000000" stroke="#8a8a10" class="pt"/>
<circle cx="512.6" cy="230.2" r="1.35" fill="#000000" stroke="#8a8a10" class="pt"/>
<circle cx="512.6" cy="249.0" r="1.35" fill="#000000" stroke="#8a8a10" class="pt"/>
<text x="512.6" y="195.5" class="lt">ab</text>
<line x1="546.6" y1="113.3" x2="546.6" y2="156.6" class="wh"/>
<line x1="546.6" y1="217.7" x2="546.6" y2="230.7" class="wh"/>
<rect x="534.0" y="156.6" width="25.3" height="61.1" fill="#ffff00" class="bx"/>
<line x1="534.0" y1="204.4" x2="559.3" y2="204.4" stroke="#7a7a10" class="md"/>
<circle cx="546.3" cy="113.3" r="1.35" fill="#003d20" stroke="#2a8a3a" class="pt"/>
<circle cx="546.3" cy="156.6" r="1.35" fill="#003d20" stroke="#2a8a3a" class="pt"/>
<circle cx="546.3" cy="204.4" r="1.35" fill="#003d20" stroke="#2a8a3a" class="pt"/>
<circle cx="546.3" cy="217.7" r="1.35" fill="#003d20" stroke="#2a8a3a" class="pt"/>
<circle cx="546.3" cy="230.7" r="1.35" fill="#003d20" stroke="#2a8a3a" class="pt"/>
<text x="546.3" y="109.6" class="lt">ab</text>
<line x1="580.4" y1="194.6" x2="580.4" y2="201.5" class="wh"/>
<line x1="580.4" y1="220.5" x2="580.4" y2="221.0" class="wh"/>
<rect x="567.7" y="201.5" width="25.3" height="19.0" fill="#fff8aa" class="bx"/>
<line x1="567.7" y1="211.4" x2="593.0" y2="211.4" stroke="#8a8050" class="md"/>
<circle cx="579.7" cy="194.6" r="1.35" fill="#00404a" stroke="#2a8a8a" class="pt"/>
<circle cx="579.7" cy="203.4" r="1.35" fill="#00404a" stroke="#2a8a8a" class="pt"/>
<circle cx="577.7" cy="221.0" r="1.35" fill="#00404a" stroke="#2a8a8a" class="pt"/>
<circle cx="581.7" cy="221.0" r="1.35" fill="#00404a" stroke="#2a8a8a" class="pt"/>
<text x="579.7" y="186.4" class="lt">ab</text>
<line x1="614.1" y1="185.0" x2="614.1" y2="190.8" class="wh"/>
<line x1="614.1" y1="216.5" x2="614.1" y2="230.6" class="wh"/>
<rect x="601.5" y="190.8" width="25.3" height="25.7" fill="#ff6a0a" class="bx"/>
<line x1="601.5" y1="214.4" x2="626.8" y2="214.4" stroke="#8a3a10" class="md"/>
<circle cx="614.3" cy="185.0" r="1.35" fill="#00404a" stroke="#2a6a8a" class="pt"/>
<circle cx="614.3" cy="190.8" r="1.35" fill="#00404a" stroke="#2a6a8a" class="pt"/>
<circle cx="612.3" cy="215.5" r="1.35" fill="#00404a" stroke="#2a6a8a" class="pt"/>
<circle cx="616.3" cy="215.5" r="1.35" fill="#00404a" stroke="#2a6a8a" class="pt"/>
<circle cx="614.3" cy="230.6" r="1.35" fill="#00404a" stroke="#2a6a8a" class="pt"/>
<text x="614.3" y="176.9" class="lt">ab</text>
<line x1="647.8" y1="205.5" x2="647.8" y2="212.1" class="wh"/>
<line x1="647.8" y1="243.3" x2="647.8" y2="247.0" class="wh"/>
<rect x="635.2" y="212.1" width="25.3" height="31.2" fill="#fcd5b6" class="bx"/>
<line x1="635.2" y1="234.1" x2="660.5" y2="234.1" stroke="#8a6a55" class="md"/>
<circle cx="646.0" cy="205.5" r="1.35" fill="#0a1a40" stroke="#2a4a8a" class="pt"/>
<circle cx="650.0" cy="205.5" r="1.35" fill="#0a1a40" stroke="#2a4a8a" class="pt"/>
<circle cx="648.0" cy="229.7" r="1.35" fill="#0a1a40" stroke="#2a4a8a" class="pt"/>
<circle cx="648.0" cy="238.4" r="1.35" fill="#0a1a40" stroke="#2a4a8a" class="pt"/>
<circle cx="646.0" cy="247.0" r="1.35" fill="#0a1a40" stroke="#2a4a8a" class="pt"/>
<circle cx="650.0" cy="247.0" r="1.35" fill="#0a1a40" stroke="#2a4a8a" class="pt"/>
<text x="648.1" y="199.6" class="lt">a</text>
<line x1="681.6" y1="96.5" x2="681.6" y2="121.7" class="wh"/>
<line x1="681.6" y1="180.6" x2="681.6" y2="214.6" class="wh"/>
<rect x="668.9" y="121.7" width="25.3" height="58.9" fill="#d8f800" class="bx"/>
<line x1="668.9" y1="148.2" x2="694.2" y2="148.2" stroke="#6a7a10" class="md"/>
<circle cx="681.7" cy="96.5" r="1.35" fill="#300040" stroke="#6a2a6a" class="pt"/>
<circle cx="681.7" cy="115.2" r="1.35" fill="#300040" stroke="#6a2a6a" class="pt"/>
<circle cx="681.7" cy="141.0" r="1.35" fill="#300040" stroke="#6a2a6a" class="pt"/>
<circle cx="681.7" cy="155.5" r="1.35" fill="#300040" stroke="#6a2a6a" class="pt"/>
<circle cx="681.7" cy="189.3" r="1.35" fill="#300040" stroke="#6a2a6a" class="pt"/>
<circle cx="681.7" cy="214.6" r="1.35" fill="#300040" stroke="#6a2a6a" class="pt"/>
<text x="681.7" y="91.0" class="lt">b</text>
<line x1="715.3" y1="146.0" x2="715.3" y2="169.6" class="wh"/>
<line x1="715.3" y1="221.2" x2="715.3" y2="223.2" class="wh"/>
<rect x="702.7" y="169.6" width="25.3" height="51.6" fill="#6eaa2e" class="bx"/>
<line x1="702.7" y1="209.4" x2="728.0" y2="209.4" stroke="#3e6a1e" class="md"/>
<circle cx="715.3" cy="146.0" r="1.35" fill="#000000" stroke="#c02a9a" class="pt"/>
<circle cx="715.3" cy="159.4" r="1.35" fill="#000000" stroke="#c02a9a" class="pt"/>
<circle cx="715.3" cy="200.5" r="1.35" fill="#000000" stroke="#c02a9a" class="pt"/>
<circle cx="715.3" cy="218.0" r="1.35" fill="#000000" stroke="#c02a9a" class="pt"/>
<circle cx="713.3" cy="223.2" r="1.35" fill="#000000" stroke="#c02a9a" class="pt"/>
<circle cx="717.3" cy="223.2" r="1.35" fill="#000000" stroke="#c02a9a" class="pt"/>
<text x="715.5" y="139.0" class="lt">ab</text>
<line x1="445.4" y1="349.3" x2="445.4" y2="377.2" class="wh"/>
<line x1="445.4" y1="401.6" x2="445.4" y2="410.0" class="wh"/>
<rect x="432.8" y="377.2" width="25.3" height="24.4" fill="#9a9a9a" class="bx"/>
<line x1="432.8" y1="388.3" x2="458.0" y2="388.3" stroke="#5a5a5a" class="md"/>
<circle cx="445.3" cy="349.3" r="1.35" fill="#000000" stroke="#b01818" class="pt"/>
<circle cx="443.3" cy="378.2" r="1.35" fill="#000000" stroke="#b01818" class="pt"/>
<circle cx="447.3" cy="378.2" r="1.35" fill="#000000" stroke="#b01818" class="pt"/>
<circle cx="445.3" cy="396.6" r="1.35" fill="#000000" stroke="#b01818" class="pt"/>
<circle cx="445.3" cy="403.0" r="1.35" fill="#000000" stroke="#b01818" class="pt"/>
<circle cx="445.3" cy="410.0" r="1.35" fill="#000000" stroke="#b01818" class="pt"/>
<text x="445.3" y="342.3" class="lt">ac</text>
<line x1="479.1" y1="423.2" x2="479.1" y2="440.9" class="wh"/>
<rect x="466.5" y="396.5" width="25.3" height="26.7" fill="#4ea93a" class="bx"/>
<line x1="466.5" y1="416.5" x2="491.8" y2="416.5" stroke="#2e6e22" class="md"/>
<circle cx="479.3" cy="335.8" r="1.35" fill="#000000" stroke="#d08a00" class="pt"/>
<circle cx="477.3" cy="416.5" r="1.35" fill="#000000" stroke="#d08a00" class="pt"/>
<circle cx="481.3" cy="416.5" r="1.35" fill="#000000" stroke="#d08a00" class="pt"/>
<circle cx="479.3" cy="440.9" r="1.35" fill="#000000" stroke="#d08a00" class="pt"/>
<text x="480.0" y="389.8" class="lt">ac</text>
<line x1="512.9" y1="344.4" x2="512.9" y2="380.9" class="wh"/>
<line x1="512.9" y1="422.7" x2="512.9" y2="430.0" class="wh"/>
<rect x="500.2" y="380.9" width="25.3" height="41.8" fill="#b2dfa0" class="bx"/>
<line x1="500.2" y1="417.6" x2="525.5" y2="417.6" stroke="#6a7a60" class="md"/>
<circle cx="512.6" cy="344.4" r="1.35" fill="#000000" stroke="#8a8a10" class="pt"/>
<circle cx="512.6" cy="369.8" r="1.35" fill="#000000" stroke="#8a8a10" class="pt"/>
<circle cx="512.6" cy="414.2" r="1.35" fill="#000000" stroke="#8a8a10" class="pt"/>
<circle cx="510.6" cy="422.4" r="1.35" fill="#000000" stroke="#8a8a10" class="pt"/>
<circle cx="514.6" cy="422.4" r="1.35" fill="#000000" stroke="#8a8a10" class="pt"/>
<circle cx="512.6" cy="430.0" r="1.35" fill="#000000" stroke="#8a8a10" class="pt"/>
<text x="512.4" y="337.1" class="lt">ac</text>
<line x1="546.6" y1="396.4" x2="546.6" y2="429.3" class="wh"/>
<rect x="534.0" y="375.0" width="25.3" height="21.4" fill="#ffff00" class="bx"/>
<line x1="534.0" y1="383.2" x2="559.3" y2="383.2" stroke="#7a7a10" class="md"/>
<circle cx="544.9" cy="374.5" r="1.35" fill="#003d20" stroke="#2a8a3a" class="pt"/>
<circle cx="547.9" cy="374.5" r="1.35" fill="#003d20" stroke="#2a8a3a" class="pt"/>
<circle cx="546.3" cy="383.4" r="1.35" fill="#003d20" stroke="#2a8a3a" class="pt"/>
<circle cx="546.3" cy="396.4" r="1.35" fill="#003d20" stroke="#2a8a3a" class="pt"/>
<circle cx="546.3" cy="429.3" r="1.35" fill="#003d20" stroke="#2a8a3a" class="pt"/>
<text x="544.9" y="366.5" class="lt">ac</text>
<line x1="580.4" y1="403.6" x2="580.4" y2="420.5" class="wh"/>
<line x1="580.4" y1="439.9" x2="580.4" y2="442.5" class="wh"/>
<rect x="567.7" y="420.5" width="25.3" height="19.4" fill="#fff8aa" class="bx"/>
<line x1="567.7" y1="429.2" x2="593.0" y2="429.2" stroke="#8a8050" class="md"/>
<circle cx="580.0" cy="403.6" r="1.35" fill="#00404a" stroke="#2a8a8a" class="pt"/>
<circle cx="580.0" cy="420.5" r="1.35" fill="#00404a" stroke="#2a8a8a" class="pt"/>
<circle cx="580.0" cy="429.4" r="1.35" fill="#00404a" stroke="#2a8a8a" class="pt"/>
<circle cx="578.0" cy="442.5" r="1.35" fill="#00404a" stroke="#2a8a8a" class="pt"/>
<circle cx="582.0" cy="442.5" r="1.35" fill="#00404a" stroke="#2a8a8a" class="pt"/>
<text x="580.3" y="398.4" class="lt">a</text>
<line x1="614.1" y1="367.4" x2="614.1" y2="388.4" class="wh"/>
<line x1="614.1" y1="410.4" x2="614.1" y2="411.2" class="wh"/>
<rect x="601.5" y="388.4" width="25.3" height="22.0" fill="#ff6a0a" class="bx"/>
<line x1="601.5" y1="404.9" x2="626.8" y2="404.9" stroke="#8a3a10" class="md"/>
<circle cx="614.3" cy="367.4" r="1.35" fill="#00404a" stroke="#2a6a8a" class="pt"/>
<circle cx="614.3" cy="388.3" r="1.35" fill="#00404a" stroke="#2a6a8a" class="pt"/>
<circle cx="614.3" cy="404.7" r="1.35" fill="#00404a" stroke="#2a6a8a" class="pt"/>
<circle cx="612.3" cy="411.2" r="1.35" fill="#00404a" stroke="#2a6a8a" class="pt"/>
<circle cx="616.3" cy="411.2" r="1.35" fill="#00404a" stroke="#2a6a8a" class="pt"/>
<text x="614.4" y="360.4" class="lt">ac</text>
<line x1="647.8" y1="346.2" x2="647.8" y2="398.6" class="wh"/>
<line x1="647.8" y1="441.5" x2="647.8" y2="445.1" class="wh"/>
<rect x="635.2" y="398.6" width="25.3" height="42.9" fill="#fcd5b6" class="bx"/>
<line x1="635.2" y1="425.7" x2="660.5" y2="425.7" stroke="#8a6a55" class="md"/>
<circle cx="648.0" cy="346.2" r="1.35" fill="#0a1a40" stroke="#2a4a8a" class="pt"/>
<circle cx="648.0" cy="391.3" r="1.35" fill="#0a1a40" stroke="#2a4a8a" class="pt"/>
<circle cx="648.0" cy="421.6" r="1.35" fill="#0a1a40" stroke="#2a4a8a" class="pt"/>
<circle cx="648.0" cy="430.1" r="1.35" fill="#0a1a40" stroke="#2a4a8a" class="pt"/>
<circle cx="646.0" cy="445.1" r="1.35" fill="#0a1a40" stroke="#2a4a8a" class="pt"/>
<circle cx="650.0" cy="445.1" r="1.35" fill="#0a1a40" stroke="#2a4a8a" class="pt"/>
<text x="647.0" y="338.7" class="lt">ab</text>
<line x1="681.6" y1="345.4" x2="681.6" y2="356.2" class="wh"/>
<rect x="668.9" y="356.2" width="25.3" height="13.6" fill="#d8f800" class="bx"/>
<line x1="668.9" y1="357.0" x2="694.2" y2="357.0" stroke="#6a7a10" class="md"/>
<circle cx="681.3" cy="345.4" r="1.35" fill="#300040" stroke="#6a2a6a" class="pt"/>
<circle cx="679.3" cy="357.0" r="1.35" fill="#300040" stroke="#6a2a6a" class="pt"/>
<circle cx="683.3" cy="357.0" r="1.35" fill="#300040" stroke="#6a2a6a" class="pt"/>
<circle cx="679.3" cy="369.8" r="1.35" fill="#300040" stroke="#6a2a6a" class="pt"/>
<circle cx="683.3" cy="369.8" r="1.35" fill="#300040" stroke="#6a2a6a" class="pt"/>
<text x="681.3" y="339.1" class="lt">c</text>
<line x1="715.3" y1="292.4" x2="715.3" y2="320.1" class="wh"/>
<line x1="715.3" y1="396.5" x2="715.3" y2="403.2" class="wh"/>
<rect x="702.7" y="320.1" width="25.3" height="76.4" fill="#6eaa2e" class="bx"/>
<line x1="702.7" y1="392.7" x2="728.0" y2="392.7" stroke="#3e6a1e" class="md"/>
<circle cx="715.3" cy="292.4" r="1.35" fill="#000000" stroke="#c02a9a" class="pt"/>
<circle cx="715.3" cy="320.1" r="1.35" fill="#000000" stroke="#c02a9a" class="pt"/>
<circle cx="713.3" cy="394.6" r="1.35" fill="#000000" stroke="#c02a9a" class="pt"/>
<circle cx="717.3" cy="394.6" r="1.35" fill="#000000" stroke="#c02a9a" class="pt"/>
<circle cx="715.3" cy="403.2" r="1.35" fill="#000000" stroke="#c02a9a" class="pt"/>
<text x="714.5" y="286.1" class="lt">bc</text>
<text transform="translate(91.8,468.5) rotate(-45)" class="xl">Control</text>
<text transform="translate(125.6,468.5) rotate(-45)" class="xl">Mb-L</text>
<text transform="translate(159.4,468.5) rotate(-45)" class="xl">Mb-S</text>
<text transform="translate(193.2,468.5) rotate(-45)" class="xl">Dr-L</text>
<text transform="translate(227.0,468.5) rotate(-45)" class="xl">Dr-S</text>
<text transform="translate(260.8,468.5) rotate(-45)" class="xl">Mb-L/Dr-L</text>
<text transform="translate(294.6,468.5) rotate(-45)" class="xl">Mb-S/Dr-S</text>
<text transform="translate(328.4,468.5) rotate(-45)" class="xl">Dr-L/Mb-S</text>
<text transform="translate(362.2,468.5) rotate(-45)" class="xl">Mb-L/Dr-S</text>
<text transform="translate(450.4,469.5) rotate(-45)" class="xl">Control</text>
<text transform="translate(484.1,469.5) rotate(-45)" class="xl">Mb-L</text>
<text transform="translate(517.9,469.5) rotate(-45)" class="xl">Mb-S</text>
<text transform="translate(551.6,469.5) rotate(-45)" class="xl">Dr-L</text>
<text transform="translate(585.4,469.5) rotate(-45)" class="xl">Dr-S</text>
<text transform="translate(619.1,469.5) rotate(-45)" class="xl">Mb-L/Dr-L</text>
<text transform="translate(652.8,469.5) rotate(-45)" class="xl">Mb-S/Dr-S</text>
<text transform="translate(686.6,469.5) rotate(-45)" class="xl">Dr-L/Mb-S</text>
<text transform="translate(720.3,469.5) rotate(-45)" class="xl">Mb-L/Dr-S</text>
</svg>
</body></html>
